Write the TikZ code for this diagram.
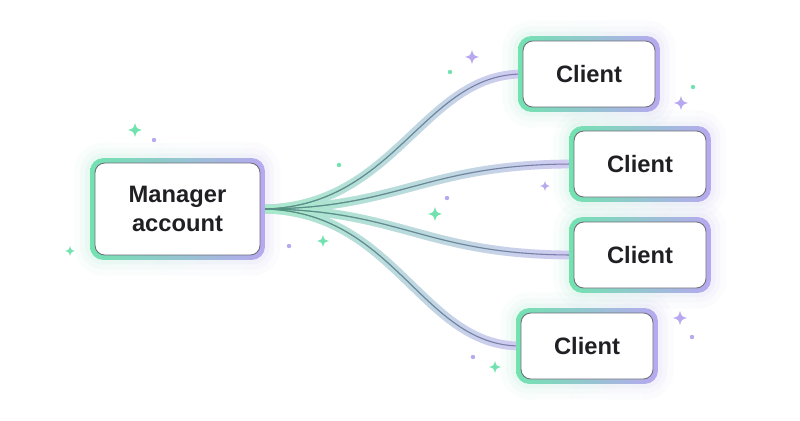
\documentclass[tikz,border=0pt]{standalone}
\usepackage{fontspec}
\setmainfont{Liberation Sans}
\usepackage{xcolor}
\usepackage{tikz}
\usetikzlibrary{positioning, calc, fadings, backgrounds}

\definecolor{mint}{HTML}{72E3B0}
\definecolor{lilac}{HTML}{B7A8F0}
\definecolor{mintpale}{HTML}{A4ECC8}
\definecolor{lilacpale}{HTML}{D2CAF3}
\definecolor{mintdark}{HTML}{4A9878}
\definecolor{lilacdark}{HTML}{7F7BAE}
\definecolor{ink}{HTML}{202024}
\definecolor{rim}{HTML}{6E6E78}

\begin{document}
\begin{tikzpicture}[x=0.02cm, y=-0.02cm,
        acct/.style={rectangle, draw=rim, line width=0.5pt, fill=white, rounded corners=5.5pt, text=ink, align=center, font=\fontsize{13.5}{16.5}\selectfont\bfseries},
        manager/.style={acct, minimum width=3.3cm, minimum height=1.84cm},
        client/.style={acct, minimum width=2.64cm, minimum height=1.32cm},
        band/.style={line width=5pt, line cap=round},
        thread/.style={line width=0.6pt, line cap=round}
    ]
        \useasboundingbox (0,0) rectangle (800,420);

        % Accounts
        \node[manager] (mgr) at (177.5,209) {Manager\\account};
        \node[client]  (c1)  at (589,74)   {Client};
        \node[client]  (c2)  at (640,164)  {Client};
        \node[client]  (c3)  at (640,255)  {Client};
        \node[client]  (c4)  at (587,346)  {Client};

        \begin{pgfonlayer}{background}
        \fill[white] (0,0) rectangle (800,420);
        % Glow
        \foreach \n in {mgr,c1,c2,c3,c4} {
            \shade[left color=mint, right color=lilac, fill opacity=0.04, rounded corners=16pt]
                ($(\n.south west)+(-20,20)$) rectangle ($(\n.north east)+(20,-20)$);
            \shade[left color=mint, right color=lilac, fill opacity=0.05, rounded corners=13pt]
                ($(\n.south west)+(-14,14)$) rectangle ($(\n.north east)+(14,-14)$);
            \shade[left color=mint, right color=lilac, fill opacity=0.07, rounded corners=10pt]
                ($(\n.south west)+(-9,9)$) rectangle ($(\n.north east)+(9,-9)$);
        }

        % Connectors
        \foreach \n/\a/\b in {c1/135/100, c2/140/150, c3/140/150, c4/135/100} {
            \draw[band, lilacpale] (mgr.east) .. controls +(\a,0) and +(-\b,0) .. (\n.west);
            \draw[band, mintpale, path fading=east] (mgr.east) .. controls +(\a,0) and +(-\b,0) .. (\n.west);
        }
        \foreach \n/\a/\b in {c1/135/100, c2/140/150, c3/140/150, c4/135/100} {
            \draw[thread, lilacdark] (mgr.east) .. controls +(\a,0) and +(-\b,0) .. (\n.west);
            \draw[thread, mintdark, path fading=east] (mgr.east) .. controls +(\a,0) and +(-\b,0) .. (\n.west);
        }

        % Borders
        \foreach \n in {mgr,c1,c2,c3,c4} {
            \shade[left color=mint, right color=lilac, rounded corners=7.5pt]
                ($(\n.south west)+(-4.5,4.5)$) rectangle ($(\n.north east)+(4.5,-4.5)$);
        }
        \end{pgfonlayer}

        % Sparkles
        \foreach \x/\y/\s/\c in {135/130/7/mint, 70/251/5/mint, 323/241/6/mint, 435/214/7/mint,
                                 495/367/6/mint, 472/57/7/lilac, 681/103/7/lilac, 545/186/5/lilac,
                                 680/318/7/lilac} {
            \fill[\c] (\x,\y-\s) .. controls (\x+0.22*\s,\y-0.22*\s) .. (\x+\s,\y)
                .. controls (\x+0.22*\s,\y+0.22*\s) .. (\x,\y+\s)
                .. controls (\x-0.22*\s,\y+0.22*\s) .. (\x-\s,\y)
                .. controls (\x-0.22*\s,\y-0.22*\s) .. cycle;
        }
        \foreach \x/\y/\c in {154/140/lilac, 289/246/lilac, 339/165/mint, 447/198/lilac,
                              450/72/mint, 693/87/mint, 692/337/lilac, 473/357/lilac} {
            \fill[\c] (\x,\y) circle (2.2);
        }

    \end{tikzpicture}
\end{document}
